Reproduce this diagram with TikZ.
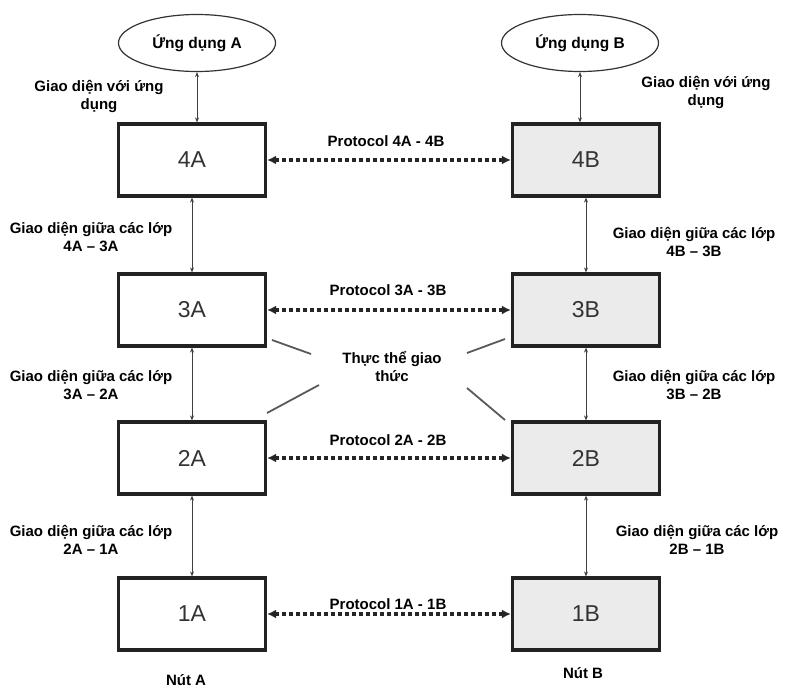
\documentclass[tikz,border=0pt]{standalone}
\usepackage{fontspec}
\setmainfont{Liberation Sans}
\usetikzlibrary{arrows.meta,shapes.geometric}
\definecolor{boxline}{HTML}{222222}
\definecolor{boxtext}{HTML}{333333}
\definecolor{peerfill}{HTML}{EBEBEB}
\begin{document}
\begin{tikzpicture}[x=1pt,y=-1pt,
  layer/.style={draw=boxline, line width=3.2pt, minimum width=147pt, minimum height=72pt,
    inner sep=0pt, font=\fontsize{23}{23}\selectfont, text=boxtext},
  peer/.style={layer, fill=peerfill},
  app/.style={draw=black!80, line width=1.2pt, ellipse, minimum width=157pt,
    minimum height=57pt, inner sep=0pt, font=\bfseries\fontsize{15.5}{15.5}\selectfont},
  lbl/.style={font=\bfseries\fontsize{15}{18}\selectfont, align=center},
  iface/.style={draw=black!75, line width=0.8pt,
    {Stealth[length=5pt 0 0,width=4pt 0 0]}-{Stealth[length=5pt 0 0,width=4pt 0 0]}},
  proto/.style={draw=black!85, line width=3.5pt, dash pattern=on 3.5pt off 3.5pt,
    {Latex[length=9pt 0 0,width=9pt 0 0]}-{Latex[length=9pt 0 0,width=9pt 0 0]}},
  entity/.style={draw=black!65, line width=1.8pt}
]
\useasboundingbox (0,0) rectangle (803,699);

% applications
\node[app] (appA) at (197,43) {Ứng dụng A};
\node[app] (appB) at (580,43) {Ứng dụng B};

% layer entities of node A
\node[layer] (l4A) at (192,160) {4A};
\node[layer] (l3A) at (192,310) {3A};
\node[layer] (l2A) at (192,458) {2A};
\node[layer] (l1A) at (192,614) {1A};

% layer entities of node B
\node[peer] (l4B) at (586,160) {4B};
\node[peer] (l3B) at (586,310) {3B};
\node[peer] (l2B) at (586,458) {2B};
\node[peer] (l1B) at (586,614) {1B};

% interfaces
\draw[iface] (appA.south) -- (appA.south |- l4A.north);
\draw[iface] (l4A) -- (l3A);
\draw[iface] (l3A) -- (l2A);
\draw[iface] (l2A) -- (l1A);
\draw[iface] (appB.south) -- (appB.south |- l4B.north);
\draw[iface] (l4B) -- (l3B);
\draw[iface] (l3B) -- (l2B);
\draw[iface] (l2B) -- (l1B);

% peer protocols
\draw[proto] (l4A.east) -- (l4B.west);
\draw[proto] (l3A.east) -- (l3B.west);
\draw[proto] (l2A.east) -- (l2B.west);
\draw[proto] (l1A.east) -- (l1B.west);

\node[lbl] (p4) at (386,141) {Protocol 4A - 4B};
\node[lbl] (p3) at (388,290) {Protocol 3A - 3B};
\node[lbl] (p2) at (388,440) {Protocol 2A - 2B};
\node[lbl] (p1) at (388,604) {Protocol 1A - 1B};

% interface labels
\node[lbl] (iA4) at (99,96) {Giao diện với ứng\\dụng};
\node[lbl] (iA3) at (91,237) {Giao diện giữa các lớp\\4A – 3A};
\node[lbl] (iA2) at (91,385) {Giao diện giữa các lớp\\3A – 2A};
\node[lbl] (iA1) at (91,540) {Giao diện giữa các lớp\\2A – 1A};
\node[lbl] (iB4) at (706,92) {Giao diện với ứng\\dụng};
\node[lbl] (iB3) at (694,242) {Giao diện giữa các lớp\\4B – 3B};
\node[lbl] (iB2) at (694,385) {Giao diện giữa các lớp\\3B – 2B};
\node[lbl] (iB1) at (697,540) {Giao diện giữa các lớp\\2B – 1B};

\node[lbl] (nA) at (186,680) {Nút A};
\node[lbl] (nB) at (583,673) {Nút B};

% protocol entity callout
\node[lbl] (ent) at (392,367) {Thực thể giao\\thức};
\coordinate (e1a) at (272,340); \coordinate (e1b) at (311,354);
\coordinate (e2a) at (267,413); \coordinate (e2b) at (319,385);
\coordinate (e3a) at (505,339); \coordinate (e3b) at (467,353);
\coordinate (e4a) at (505,420); \coordinate (e4b) at (467,388);
\draw[entity] (e1a) -- (e1b);
\draw[entity] (e2a) -- (e2b);
\draw[entity] (e3a) -- (e3b);
\draw[entity] (e4a) -- (e4b);
\end{tikzpicture}
\end{document}
